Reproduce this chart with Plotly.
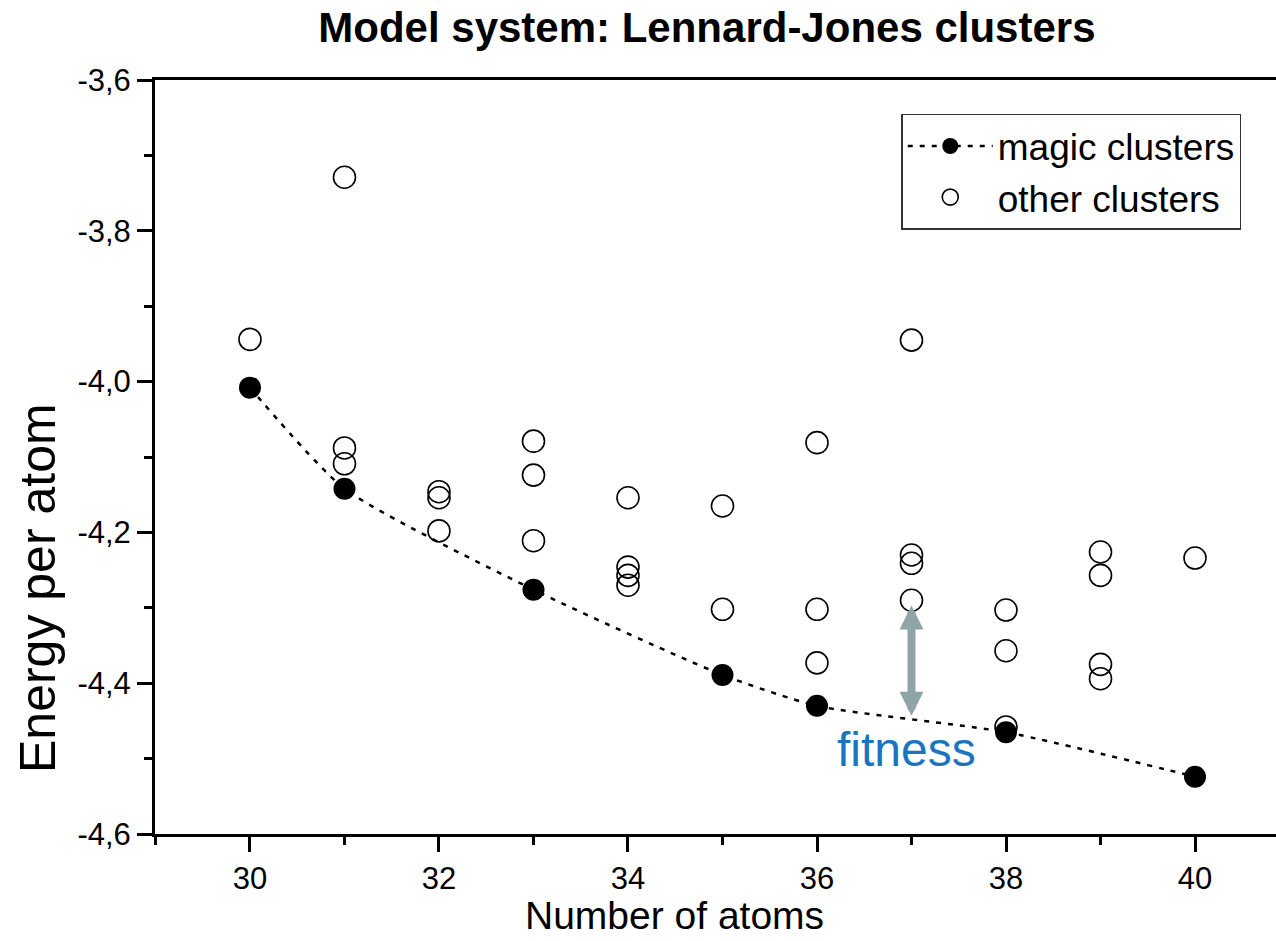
import plotly.graph_objects as go

# Lowest-energy ("magic") clusters per atom count
magic_n = [30, 31, 33, 35, 36, 38, 40]
magic_e = [-4.008, -4.142, -4.276, -4.389, -4.430, -4.465, -4.524]

# Other cluster configurations
other_n = [30, 31, 31, 31, 32, 32, 32, 33, 33, 33, 34, 34, 34, 34,
           35, 35, 36, 36, 36, 37, 37, 37, 37, 38, 38, 38, 39, 39, 39, 39, 40]
other_e = [-3.944, -3.729, -4.088, -4.109, -4.146, -4.154, -4.198,
           -4.079, -4.124, -4.211, -4.154, -4.246, -4.257, -4.270,
           -4.165, -4.302, -4.081, -4.302, -4.373, -3.945, -4.230, -4.241,
           -4.290, -4.303, -4.357, -4.458, -4.226, -4.257, -4.375, -4.394, -4.234]

# Fitness gap shown at N = 37
fit_n = 37
fit_low = -4.445
fit_high = -4.297

x_ticks = [30, 32, 34, 36, 38, 40]
x_labels = ["30", "32", "34", "36", "38", "40"]
y_ticks = [-4.6, -4.4, -4.2, -4.0, -3.8, -3.6]
y_labels = ["-4,6", "-4,4", "-4,2", "-4,0", "-3,8", "-3,6"]

FONT = "Arial, Liberation Sans, sans-serif"

fig = go.Figure()

fig.add_trace(go.Scatter(
    x=other_n, y=other_e, mode="markers", name="other clusters",
    marker=dict(symbol="circle-open", size=22, color="black",
                line=dict(width=1.6, color="black")),
))

fig.add_trace(go.Scatter(
    x=magic_n, y=magic_e, mode="lines+markers", name="magic clusters",
    line=dict(color="black", width=2.5, dash="5px,7px", shape="spline", smoothing=0.6),
    marker=dict(symbol="circle", size=22, color="black"),
))

fig.add_annotation(
    x=fit_n, y=fit_high, ax=fit_n, ay=fit_low,
    xref="x", yref="y", axref="x", ayref="y",
    showarrow=True, arrowside="end+start", arrowhead=2,
    arrowsize=0.6, arrowwidth=8, arrowcolor="#8FA4A7", standoff=0, startstandoff=0,
    text="",
)

fig.add_annotation(
    x=36.95, y=-4.488, xref="x", yref="y", text="fitness", showarrow=False,
    font=dict(family=FONT, size=48, color="#1B74BD"),
)

# Axis titles placed as free text
fig.add_annotation(
    x=(674 - 155) / 1121, y=(834 - 915) / 754, xref="paper", yref="paper",
    xanchor="center", yanchor="middle", showarrow=False, borderpad=0,
    text="Number of atoms", font=dict(family=FONT, size=39, color="black"),
)
fig.add_annotation(
    x=(38 - 155) / 1121, y=(834 - 588) / 754, xref="paper", yref="paper",
    xanchor="center", yanchor="middle", showarrow=False, textangle=-90,
    text="Energy per atom", font=dict(family=FONT, size=50, color="black"),
)

fig.update_layout(
    width=1276, height=941,
    margin=dict(l=155, r=0, t=80, b=107),
    paper_bgcolor="white", plot_bgcolor="white",
    font=dict(family=FONT, color="black"),
    title=dict(text="<b>Model system: Lennard-Jones clusters</b>",
               x=0.554, xanchor="center", y=0.971, yanchor="middle",
               font=dict(family=FONT, size=42, color="black")),
    showlegend=True,
    legend=dict(
        x=0.969, y=0.955, xanchor="right", yanchor="top",
        traceorder="reversed",
        bgcolor="white", bordercolor="#333333", borderwidth=1.5,
        font=dict(family=FONT, size=37, color="black"),
        itemwidth=85,
    ),
    xaxis=dict(
        range=[28.995, 40.857], tickvals=x_ticks, ticktext=x_labels,
        ticks="outside", ticklen=15, tickwidth=3, tickcolor="black",
        minor=dict(dtick=1, tick0=29, ticks="outside", ticklen=8, tickwidth=3, tickcolor="black"),
        showline=True, linewidth=3, linecolor="black", mirror=True,
        showgrid=False, zeroline=False,
        tickfont=dict(family=FONT, size=31, color="black"),
    ),
    yaxis=dict(
        range=[-4.6, -3.6], tickvals=y_ticks, ticktext=y_labels,
        ticks="outside", ticklen=15, tickwidth=3, tickcolor="black",
        minor=dict(dtick=0.1, tick0=-4.6, ticks="outside", ticklen=8, tickwidth=3, tickcolor="black"),
        showline=True, linewidth=3, linecolor="black", mirror=False,
        showgrid=False, zeroline=False,
        tickfont=dict(family=FONT, size=31, color="black"),
    ),
)

fig.write_html("out.html")
